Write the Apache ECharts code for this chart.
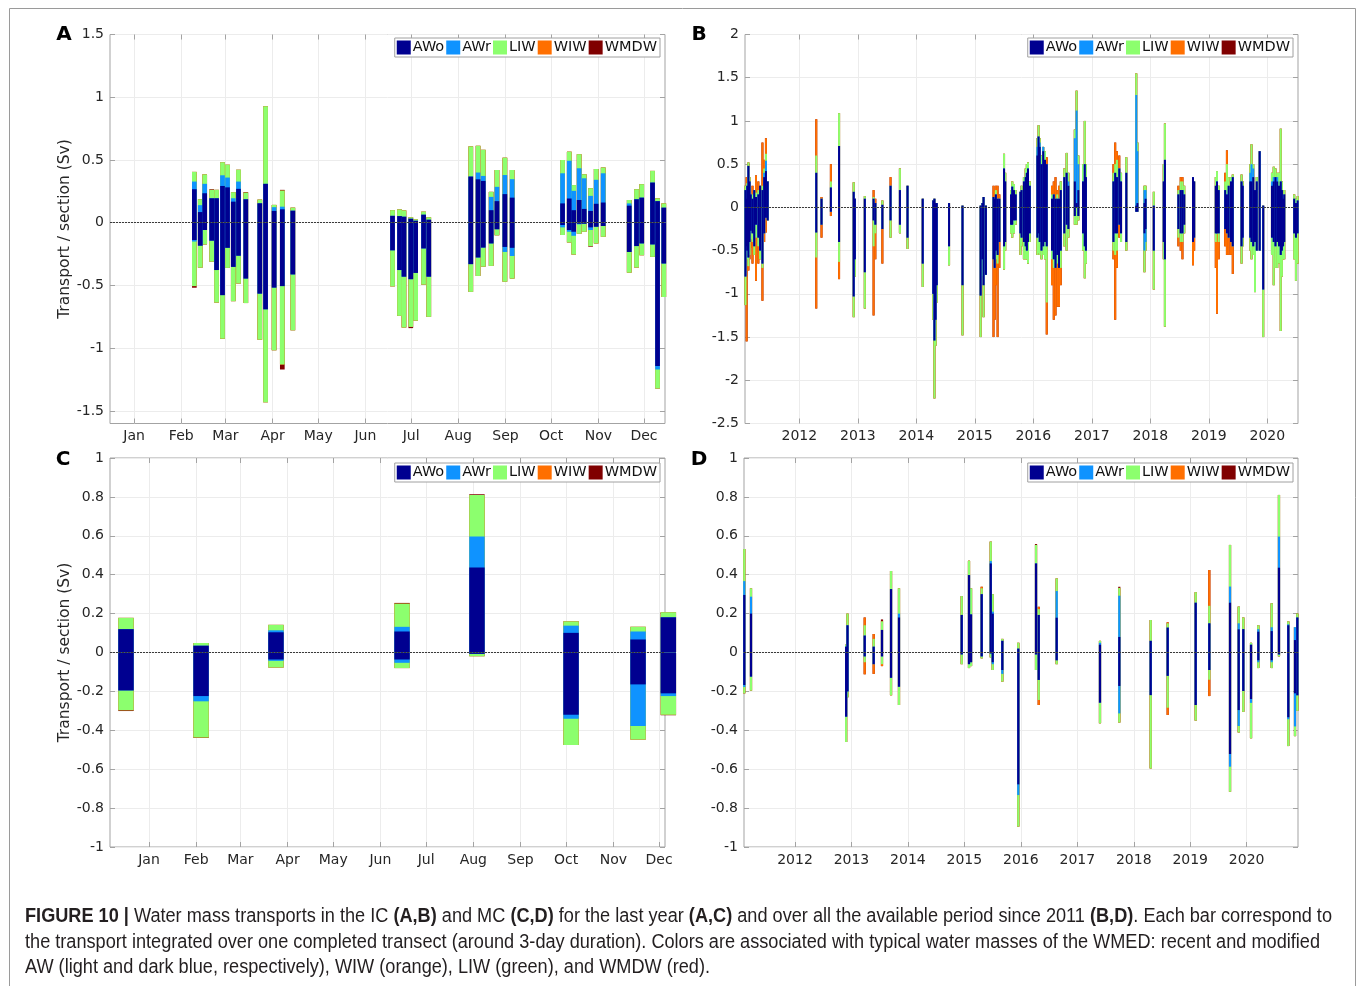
<!DOCTYPE html>
<html><head><meta charset="utf-8">
<script src="https://cdn.jsdelivr.net/npm/echarts@6/dist/echarts.min.js"></script>
<style>html,body{margin:0;padding:0;background:#fff}#c{width:1358px;height:986px}</style>
</head><body><div id="c"></div><script>
// ---------- names / ticks ----------
const NAMES = ['AWo', 'AWr', 'LIW', 'WIW', 'WMDW'];
const COLORS = ['#000090', '#0f93ff', '#8cff6e', '#ff6f00', '#800000'];
const MONTHS = ['Jan','Feb','Mar','Apr','May','Jun','Jul','Aug','Sep','Oct','Nov','Dec'];
const MONTH_START = [0,31,60,91,121,152,182,213,244,274,305,335];
const YEARS = [2012,2013,2014,2015,2016,2017,2018,2019,2020];
const Y_TICKS_A = [-1.5,-1,-0.5,0,0.5,1,1.5];
const Y_TICKS_B = [-2.5,-2,-1.5,-1,-0.5,0,0.5,1,1.5,2];
const Y_TICKS_CD = [-1,-0.8,-0.6,-0.4,-0.2,0,0.2,0.4,0.6,0.8,1];

// ---------- Panel A (IC, last year; day of year) ----------
const aDay = [39.6,43.5,46.4,51.0,54.2,58.1,61.4,65.2,68.6,73.4,82.6,86.4,92.0,97.4,104.3,
  169.8,174.4,177.3,181.8,185.0,190.2,193.6,
  221.2,226.0,229.4,234.6,238.4,243.6,248.4,
  281.5,285.9,288.8,292.4,295.7,299.9,303.6,308.2,
  325.3,330.1,333.5,340.6,343.9,348.0];
const aAWoPos = [.267,.085,.235,.195,.195,.293,.282,.168,.27,.187,.155,.31,.094,.107,.096,
  .055,.053,.048,.032,.016,.064,.024,
  .368,.346,.333,.1,.172,.228,.2,
  .154,.193,.1,.181,.11,.094,.151,.161,
  .136,.187,.2,.32,.172,.12];
const aAWrPos = [.061,.055,.075,0,0,.085,.078,.027,.058,0,0,0,.03,.021,0,
  0,0,0,0,0,0,0,
  0,.054,.04,.106,.114,.152,.147,
  .24,.301,.154,.253,.244,.12,.191,.233,
  .018,0,0,0,0,0];
const aLIWPos = [.077,.047,.075,.067,.067,.104,.102,.048,.094,.053,.029,.618,.018,.128,.024,
  .045,.053,.05,.011,.011,.024,.019,
  .24,.213,.208,.04,.134,.138,.073,
  .106,.072,.046,.112,.032,.061,.086,.046,
  .027,.08,.107,.093,.022,.034];
const aWMDWPos = [0,0,0,.005,0,0,0,0,0,.005,0,0,0,.006,0,
  0,0,0,0,0,0,0, 0,0,0,0,0,0,0, 0,0,0,0,0,0,0,0, 0,0,0,0,0,0];
const aAWoNeg = [-.138,-.183,-.058,-.143,-.377,-.577,-.2,-.352,-.263,-.445,-.565,-.69,-.517,-.505,-.412,
  -.22,-.377,-.43,-.45,-.4,-.205,-.43,
  -.33,-.277,-.198,-.165,-.052,-.193,-.2,
  -.018,-.058,-.072,-.008,-.008,-.037,-.032,-.026,
  -.233,-.186,-.165,-.173,-1.142,-.325];
const aAWrNeg = [-.012,0,0,0,0,0,0,0,0,0,0,0,0,0,0,
  0,0,0,0,0,0,0,
  0,0,0,0,0,-.04,-.065,
  -.019,-.014,-.032,-.005,0,-.021,0,0,
  0,0,0,0,-.028,0];
const aLIWNeg = [-.355,-.175,-.115,-.167,-.259,-.347,-.16,-.273,-.221,-.195,-.367,-.74,-.5,-.625,-.445,
  -.287,-.365,-.405,-.38,-.38,-.288,-.32,
  -.221,-.147,-.152,-.179,-.048,-.237,-.18,
  -.061,-.085,-.149,-.075,-.064,-.128,-.133,-.086,
  -.165,-.171,-.094,-.099,-.152,-.267];
const aWMDWNeg = [-.013,0,0,0,0,0,0,0,0,0,0,0,0,-.04,0,
  0,0,0,-.01,0,0,0, 0,0,0,0,0,0,0, 0,0,0,0,0,-.005,0,0, 0,0,0,0,0,0];

// ---------- Panel B (IC, whole period; decimal year) : transects, part 1 ----------
const bYear1 = [2011.08,2011.10,2011.13,2011.17,2011.26,2011.37,2011.43,2012.29,2012.38,2012.54,
  2012.68,2012.93,2013.12,2013.27,2013.42,2013.56,2013.72,2013.85,2014.11,2014.31,
  2014.33,2014.56,2014.79,2015.10,2015.15,2015.19,2015.32,2015.39,2015.50,2015.64,
  2015.67,2015.78,2015.87,2015.91,2016.09,2016.17,2016.23,2016.38,2016.44,2016.57,
  2016.74,2016.88,2017.40,2017.47,2017.59,2017.76,2017.90,2018.06,2018.25,2018.52,
  2018.73,2019.14,2019.31,2019.41,2019.56,2019.73,2019.79,2019.87,2019.93,2020.11,
  2020.23,2020.27,2020.49];
const bAWoPos1 = [.2,.1,.48,.15,.12,.2,.42,.4,.1,.23,
  .71,.18,.1,.1,.03,.25,.2,.25,.1,.1,
  .05,.05,.02,.02,.12,.02,.12,.1,.45,.24,
  .2,.18,.35,.45,.82,.65,.5,.1,.1,.4,
  .05,.5,.4,.45,.4,.02,.05,.02,.55,.2,
  .35,.3,.15,.35,.3,.3,.2,.65,.02,.3,
  .3,.1,.05];
const bAWrPos1 = [0,0,0,0,0,0,.12,0,0,0,
  0,0,0,0,0,0,0,0,0,0,
  0,0,0,0,0,0,0,0,0,0,
  0,0,0,0,0,.05,0,0,0,0,
  1.07,0,0,0,0,1.28,.15,0,0,0,
  0,0,0,0,0,.2,0,0,0,.05,
  0,0,0];
const bLIWPos1 = [.05,.05,.04,0,.05,.05,.08,.2,0,.07,
  .38,.11,.03,.02,.05,0,.25,0,0,0,
  0,0,0,0,0,0,0,0,.17,.06,
  .07,0,.1,.07,.13,0,0,0,0,.23,
  .23,.5,.1,0,.18,.25,.05,.16,.42,.1,
  0,.12,.35,.03,.08,.23,0,0,0,.12,
  .61,0,.05];
const bWIWPos1 = [0,.2,0,0,.2,.5,.18,.42,.02,.2,
  0,0,0,.08,0,.1,0,0,0,0,
  0,0,0,0,0,0,.13,.15,0,0,
  0,0,0,0,0,0,.08,.25,.15,0,
  0,0,.25,.15,0,0,0,0,0,.05,
  0,0,.16,0,0,0,0,0,0,0,
  0,0,0];
const bAWoNeg1 = [-.8,-.45,-.58,-.27,-.2,-.65,-.12,-.29,-.2,-.05,
  -.4,-1.03,-.75,-.15,-.25,-.15,-.2,-.35,-.65,-1.54,
  -1.3,-.45,-.9,-1.02,-.9,-.78,-.6,-.55,-.45,-.2,
  -.15,-.3,-.45,-.4,-.3,-.45,-.45,-.7,-.7,-.2,
  0,-.45,-.3,-.2,-.4,-.05,-.3,-.5,-.6,-.3,
  -.4,-.3,-.3,-.45,-.45,-.4,-.4,-.5,-.95,-.4,
  -.55,-.45,-.35];
const bAWrNeg1 = [0,0,0,0,0,0,0,0,0,0,
  0,0,0,0,0,0,0,0,0,0,
  0,0,0,0,0,0,0,0,0,0,
  0,0,0,0,0,0,0,0,0,0,
  0,0,0,0,0,0,-.2,0,0,0,
  0,0,0,0,0,0,0,0,0,0,
  0,0,0];
const bLIWNeg1 = [-.33,-.1,-.1,-.1,-.15,-.05,0,-.29,0,0,
  -.23,-.24,-.42,-.3,0,-.2,-.1,-.13,-.27,-.67,
  -.3,-.22,-.58,-.48,-.37,0,0,-.1,-.27,-.15,
  -.15,-.25,-.15,-.25,-.23,-.1,-.65,0,0,-.3,
  -.2,-.37,-.25,0,-.1,0,-.25,-.45,-.78,-.1,
  0,0,0,0,-.2,-.2,-.58,0,-.55,-.5,
  -.88,-.15,-.5];
const bWIWNeg1 = [0,-1.0,-.05,-.1,-.5,-.38,-.17,-.59,-.15,-.05,
  -.2,0,0,-.8,-.4,0,0,0,0,0,
  0,0,0,0,0,0,-.9,-.85,0,0,
  0,0,0,0,0,0,-.37,-.55,-.45,0,
  0,0,-.75,-.15,0,0,0,0,0,-.1,
  -.27,-.93,-.25,-.32,0,0,0,0,0,0,
  0,0,0];

// ---------- Panel B : transects, part 2 (filling the dense periods) ----------
const bYear2 = [2011.11,2011.15,2011.20,2011.23,2011.30,2011.33,2011.40,2011.46,2012.95,2013.30,
  2014.29,2014.35,2015.13,2015.34,2015.36,2015.42,2015.52,2015.62,2015.70,2015.80,
  2015.84,2015.89,2015.94,2016.07,2016.11,2016.14,2016.20,2016.32,2016.35,2016.41,
  2016.47,2016.53,2016.60,2016.71,2016.77,2016.85,2016.90,2017.37,2017.43,2017.50,
  2017.78,2017.92,2018.23,2018.48,2018.55,2018.58,2018.75,2019.12,2019.17,2019.28,
  2019.34,2019.38,2019.58,2019.71,2019.76,2019.82,2020.08,2020.14,2020.17,2020.20,
  2020.25,2020.29,2020.46,2020.52];
const bAWoPos2 = [.25,.3,.1,.2,.15,.25,.35,.3,.1,.05,
  .08,.05,.05,.1,.15,.1,.3,.15,.15,.2,
  .3,.4,.25,.6,.7,.5,.55,.1,.15,.1,
  .2,.35,.25,.3,.2,.3,.35,.3,.35,.3,
  .05,.1,.3,.15,.2,.15,.3,.25,.2,.2,
  .25,.3,.25,.3,.35,.3,.25,.35,.3,.25,
  .2,.15,.1,.08];
const bAWrPos2 = [0,0,0,0,0,0,.05,0,0,0,
  0,0,0,0,0,0,0,0,0,0,
  0,0,0,.1,.05,0,0,0,0,0,
  0,0,.05,.5,.3,0,0,0,0,0,
  .6,.1,0,0,0,0,0,0,0,0,
  0,0,0,.1,.1,0,.05,0,.05,0,
  0,0,0,0];
const bLIWPos2 = [.03,.05,.05,0,.05,0,.05,0,0,0,
  0,0,0,0,.05,0,.1,.05,.05,.05,
  .05,.1,.05,.1,.05,.1,.1,.05,0,.05,
  .1,.1,.1,.1,.1,.2,.15,.1,.2,.1,
  .1,.05,.2,.05,.1,.1,0,.1,.05,.1,
  .1,.05,.05,.1,.05,.05,.1,.1,.05,.15,
  .1,.05,.05,.05];
const bWIWPos2 = [0,0,.1,0,.1,0,.1,0,0,.05,
  0,0,0,.1,.05,.05,0,0,0,0,
  0,0,0,0,0,0,0,.1,.15,.05,
  0,0,0,0,0,0,0,.1,.1,0,
  0,0,0,.05,.05,0,0,0,0,.1,
  0,0,0,0,0,0,0,0,0,0,
  0,0,0,0];
const bAWoNeg2 = [-.5,-.4,-.3,-.45,-.35,-.5,-.3,-.15,-.6,-.2,
  -1.0,-.9,-.6,-.7,-.5,-.4,-.4,-.2,-.15,-.35,
  -.4,-.5,-.3,-.35,-.4,-.5,-.4,-.5,-.6,-.55,
  -.5,-.3,-.25,-.1,-.1,-.3,-.5,-.4,-.3,-.3,
  -.05,-.25,-.4,-.25,-.3,-.2,-.35,-.3,-.3,-.25,
  -.35,-.4,-.35,-.35,-.45,-.5,-.35,-.45,-.4,-.45,
  -.5,-.4,-.3,-.3];
const bAWrNeg2 = [0,0,0,0,0,0,0,0,0,0,
  0,0,0,0,0,0,0,0,0,0,
  0,0,0,0,0,0,0,0,0,0,
  0,0,0,0,0,0,0,0,0,0,
  0,-.15,0,0,0,0,0,0,0,0,
  0,0,0,0,0,0,0,0,0,0,
  0,0,0,0];
const bLIWNeg2 = [-.1,-.15,-.1,-.1,-.1,-.1,0,0,-.2,-.1,
  -.3,-.2,-.2,0,-.1,0,-.1,-.1,-.05,-.1,
  -.2,-.1,-.1,-.2,-.15,-.1,-.2,-.1,-.1,-.1,
  -.2,-.15,-.1,-.1,-.05,-.2,-.15,-.1,-.2,-.1,
  0,-.1,-.2,-.1,-.1,-.1,0,-.1,-.1,0,
  0,0,-.1,-.15,-.1,0,-.2,-.25,-.3,-.2,
  -.3,-.2,-.3,-.35];
const bWIWNeg2 = [0,-.05,-.25,0,-.2,0,-.1,0,0,-.3,
  0,0,0,-.6,-.3,-.3,0,0,0,0,
  0,0,0,0,0,0,0,-.3,-.6,-.5,
  -.2,0,0,0,0,0,0,-.1,-.2,0,
  0,0,0,-.1,-.2,0,-.15,-.3,-.2,-.2,
  -.2,-.15,0,0,0,0,0,0,0,0,
  0,0,0,0];

// ---------- Panel C (MC, last year; day of year) ----------
const cDay = [-15.1,34.2,83.4,166.2,215.4,277.2,321.2,341.1];
const cAWoPos = [.12,.035,.104,.108,.437,.101,.067,.181];
const cAWrPos = [0,0,.01,.024,.159,.037,.041,0];
const cLIWPos = [.058,.014,.028,.119,.214,.022,.024,.026];
const cWMDWPos = [0,0,0,.004,.003,0,0,0];
const cAWoNeg = [-.195,-.224,-.036,-.036,-.007,-.32,-.164,-.21];
const cAWrNeg = [0,-.027,-.007,-.017,0,-.02,-.214,-.014];
const cLIWNeg = [-.102,-.186,-.034,-.027,-.012,-.135,-.069,-.096];
const cWMDWNeg = [-.004,-.003,0,0,0,0,0,-.003];

// ---------- Panel D (MC, whole period; decimal year) ----------
const dYear = [2011.102,2011.221,2012.906,2012.93,2013.235,2013.394,2013.541,2013.701,2013.842,2014.953,
  2015.082,2015.118,2015.307,2015.467,2015.502,2015.672,2015.955,2016.269,2016.317,2016.635,
  2017.402,2017.744,2018.300,2018.601,2019.097,2019.338,2019.705,2019.859,2019.940,2020.077,
  2020.206,2020.443,2020.572,2020.737,2020.856,2020.897];
const dAWoPos = [.296,.2,.03,.14,.087,.03,.116,.326,.18,.193,
  .398,.196,.3,.458,.2,.06,.02,.458,.193,.179,
  .04,.08,.06,.128,.256,.15,.256,.119,.12,.04,
  .107,.11,.436,.14,.064,.18];
const dAWrPos = [.071,.087,0,0,0,0,0,0,.02,0,
  0,0,0,.012,.01,0,0,0,0,.137,
  .01,.212,0,0,0,0,.083,.031,0,0,
  .013,.02,.16,.005,.066,0];
const dLIWPos = [.165,.043,.01,.06,.053,.04,.044,.093,.13,.097,
  .074,.134,.03,.1,.09,.01,.03,.095,.03,.065,
  .01,.04,.107,.022,.054,.09,.214,.086,.06,.01,
  .02,.123,.214,.015,0,.02];
const dWIWPos = [0,0,0,0,.04,.025,0,0,0,0,
  0,0,.008,0,0,0,0,0,.012,0,
  0,0,0,.005,0,.184,0,0,0,0,
  0,0,0,0,0,0];
const dWMDWPos = [0,0,0,0,0,0,.01,0,0,0,
  0,0,0,0,0,0,0,.005,0,0,
  0,.006,0,0,0,0,0,0,0,0,
  0,0,0,0,0,0];
const dAWoNeg = [-.167,-.124,-.33,-.2,-.02,-.06,-.02,-.13,-.176,-.01,
  -.06,-.05,-.02,-.005,-.05,-.09,-.678,-.01,-.141,-.04,
  -.258,-.172,-.219,-.12,-.27,-.09,-.522,-.296,-.198,-.239,
  -.04,-.04,-.01,-.333,-.21,-.22];
const dAWrNeg = [-.01,0,0,0,0,0,0,0,0,0,
  0,0,0,0,-.01,-.02,-.055,0,0,0,
  0,-.141,0,0,0,0,-.065,-.082,0,-.02,
  -.01,-.01,0,-.01,-.17,0];
const dLIWNeg = [-.033,-.072,-.13,-.03,-.03,0,-.04,-.09,-.094,-.05,
  -.02,-.02,-.01,-.02,-.03,-.04,-.162,-.08,-.103,-.02,
  -.106,-.047,-.377,-.164,-.08,-.05,-.129,-.033,-.107,-.182,
  -.03,-.03,-.01,-.138,-.05,-.08];
const dWIWNeg = [0,0,0,0,-.062,-.05,-.01,0,0,0,
  0,0,0,0,0,0,0,0,-.026,0,
  0,0,0,-.037,0,-.084,0,0,0,0,
  0,0,0,0,0,0];

// ---------- styling ----------
const FONT = 'DejaVu Sans';
const AXIS_COLOR = '#a3a3a3';
const GRID_COLOR = '#ececec';
const TXT = '#262626';

function panelSeries(gi, xs, pos, neg, barW) {
  const list = [];
  [pos, neg].forEach(side => {
    const cum = NAMES.map(() => []);
    xs.forEach((x, i) => {
      let s = 0;
      for (let k = 0; k < 5; k++) {
        s += (side[k] && side[k][i]) || 0;
        cum[k].push(+s.toFixed(4));
      }
    });
    for (let k = 4; k >= 0; k--) {
      list.push({
        type: 'bar', name: NAMES[k], xAxisIndex: 2 * gi, yAxisIndex: 2 * gi,
        barWidth: barW, barGap: '-100%', silent: true, animation: false,
        itemStyle: { color: COLORS[k] },
        data: xs.map((x, i) => [x, cum[k][i]])
      });
    }
  });
  list[0].markLine = {
    silent: true, symbol: ['none', 'none'], label: { show: false }, animation: false,
    lineStyle: { type: [2, 1], color: '#3a3a3a', width: 1 },
    data: [{ yAxis: 0 }]
  };
  return list;
}

function xAxes(gi, min, max, ticks, fmt) {
  const tick = { show: true, inside: true, length: 5, lineStyle: { color: AXIS_COLOR }, customValues: ticks };
  const line = { show: false, onZero: false };
  return [
    { type: 'value', gridIndex: gi, position: 'bottom', min, max, axisLine: line, axisTick: tick,
      splitLine: { show: true, lineStyle: { color: GRID_COLOR } },
      axisLabel: { customValues: ticks, formatter: fmt, fontFamily: FONT, fontSize: 14, color: TXT, margin: 6 } },
    { type: 'value', gridIndex: gi, position: 'top', min, max, axisLine: line, axisTick: tick,
      splitLine: { show: false }, axisLabel: { show: false } }
  ];
}
function yAxes(gi, min, max, ticks, name) {
  const tick = { show: true, inside: true, length: 5, lineStyle: { color: AXIS_COLOR }, customValues: ticks };
  const line = { show: false, onZero: false };
  const left = { type: 'value', gridIndex: gi, position: 'left', min, max, axisLine: line, axisTick: tick,
    splitLine: { show: true, lineStyle: { color: GRID_COLOR } },
    axisLabel: { customValues: ticks, fontFamily: FONT, fontSize: 14, color: TXT, margin: 6 } };
  if (name) Object.assign(left, { name, nameLocation: 'middle', nameGap: 29,
    nameTextStyle: { fontFamily: FONT, fontSize: 15.5, color: TXT } });
  return [left, { type: 'value', gridIndex: gi, position: 'right', min, max, axisLine: line, axisTick: tick,
    splitLine: { show: false }, axisLabel: { show: false } }];
}
const monthFmt = v => MONTHS[MONTH_START.indexOf(v)] || '';
const yearFmt = v => String(v);

function legend(right, top) {
  return { data: NAMES, right, top, orient: 'horizontal', icon: 'rect', itemWidth: 14, itemHeight: 14, itemGap: 2,
    padding: [2, 3, 2, 2], borderColor: '#a0a0a0', borderWidth: 1, borderRadius: 0, backgroundColor: '#fff',
    selectedMode: false, textStyle: { fontFamily: FONT, fontSize: 14.5, color: '#111', padding: [0, 0, 0, -3] } };
}

const gridBase = { show: true, borderColor: AXIS_COLOR, borderWidth: 1, backgroundColor: '#fff', containLabel: false };

// ---------- caption ----------
const CAP_FONT = '"Liberation Sans"';
const CAP_SIZE = 19.5;
const capLines = [
  [['FIGURE 10 |', 1], [' Water mass transports in the IC ', 0], ['(A,B)', 1], [' and MC ', 0], ['(C,D)', 1],
   [' for the last year ', 0], ['(A,C)', 1], [' and over all the available period since 2011 ', 0], ['(B,D)', 1],
   ['. Each bar correspond to', 0]],
  [['the transport integrated over one completed transect (around 3-day duration). Colors are associated with typical water masses of the WMED: recent and modified', 0]],
  [['AW (light and dark blue, respectively), WIW (orange), LIW (green), and WMDW (red).', 0]]
];
const ctx = document.createElement('canvas').getContext('2d');
function lineWidth(segs) {
  return segs.reduce((w, [t, b]) => { ctx.font = (b ? 'bold ' : '') + CAP_SIZE + 'px ' + CAP_FONT; return w + ctx.measureText(t).width; }, 0);
}
const capScale = 1307 / lineWidth(capLines[0]);
const capY = [917, 943, 968];
const capGraphics = capLines.map((segs, i) => ({
  type: 'text', x: 25, y: capY[i], scaleX: capScale, silent: true,
  style: {
    text: segs.map(([t, b]) => '{' + (b ? 'b' : 'n') + '|' + t + '}').join(''),
    verticalAlign: 'middle', align: 'left',
    rich: {
      b: { fontFamily: 'Liberation Sans', fontSize: CAP_SIZE, fontWeight: 'bold', fill: '#231f20' },
      n: { fontFamily: 'Liberation Sans', fontSize: CAP_SIZE, fontWeight: 'normal', fill: '#231f20' }
    }
  }
}));

const letters = [['A', 64, 35], ['B', 699, 35], ['C', 63, 460], ['D', 699, 460]].map(([t, x, y]) => ({
  type: 'text', x, y, silent: true,
  style: { text: t, font: 'bold 20px "DejaVu Sans"', fill: '#000', align: 'center', verticalAlign: 'middle' }
}));

const bYear = bYear1.concat(bYear2);
const bPos = [bAWoPos1.concat(bAWoPos2), bAWrPos1.concat(bAWrPos2), bLIWPos1.concat(bLIWPos2), bWIWPos1.concat(bWIWPos2), null];
const bNeg = [bAWoNeg1.concat(bAWoNeg2), bAWrNeg1.concat(bAWrNeg2), bLIWNeg1.concat(bLIWNeg2), bWIWNeg1.concat(bWIWNeg2), null];

const option = {
  animation: false,
  backgroundColor: '#fff',
  grid: [
    Object.assign({ left: 110, top: 34.5, width: 555, height: 389 }, gridBase),
    Object.assign({ left: 745, top: 34.5, width: 553, height: 389 }, gridBase),
    Object.assign({ left: 110, top: 458, width: 555, height: 389 }, gridBase),
    Object.assign({ left: 744, top: 458, width: 554, height: 389 }, gridBase)
  ],
  xAxis: [
    ...xAxes(0, -15.8, 348.8, MONTH_START, monthFmt),
    ...xAxes(1, 2011.072, 2020.525, YEARS, yearFmt),
    ...xAxes(2, -25.6, 338.9, MONTH_START, monthFmt),
    ...xAxes(3, 2011.097, 2020.909, YEARS, yearFmt)
  ],
  yAxis: [
    ...yAxes(0, -1.6, 1.5, Y_TICKS_A, 'Transport / section (Sv)'),
    ...yAxes(1, -2.5, 2, Y_TICKS_B),
    ...yAxes(2, -1, 1, Y_TICKS_CD, 'Transport / section (Sv)'),
    ...yAxes(3, -1, 1, Y_TICKS_CD)
  ],
  legend: [legend(698, 38), legend(65, 38), legend(698, 463), legend(65, 463)],
  series: [
    ...panelSeries(0, aDay, [aAWoPos, aAWrPos, aLIWPos, null, aWMDWPos], [aAWoNeg, aAWrNeg, aLIWNeg, null, aWMDWNeg], 4.7),
    ...panelSeries(1, bYear, bPos, bNeg, 2),
    ...panelSeries(2, cDay, [cAWoPos, cAWrPos, cLIWPos, null, cWMDWPos], [cAWoNeg, cAWrNeg, cLIWNeg, null, cWMDWNeg], 15.4),
    ...panelSeries(3, dYear, [dAWoPos, dAWrPos, dLIWPos, dWIWPos, dWMDWPos], [dAWoNeg, dAWrNeg, dLIWNeg, dWIWNeg, null], 2.2)
  ],
  graphic: [
    { type: 'rect', silent: true, z: -1, shape: { x: 9.5, y: 8.5, width: 1346, height: 1000 },
      style: { fill: 'none', stroke: '#9a9a9a', lineWidth: 1 } },
    ...letters,
    ...capGraphics
  ]
};
const chart = echarts.init(document.getElementById('c'), null, { renderer: 'canvas' });
chart.setOption(option);
</script></body></html>
